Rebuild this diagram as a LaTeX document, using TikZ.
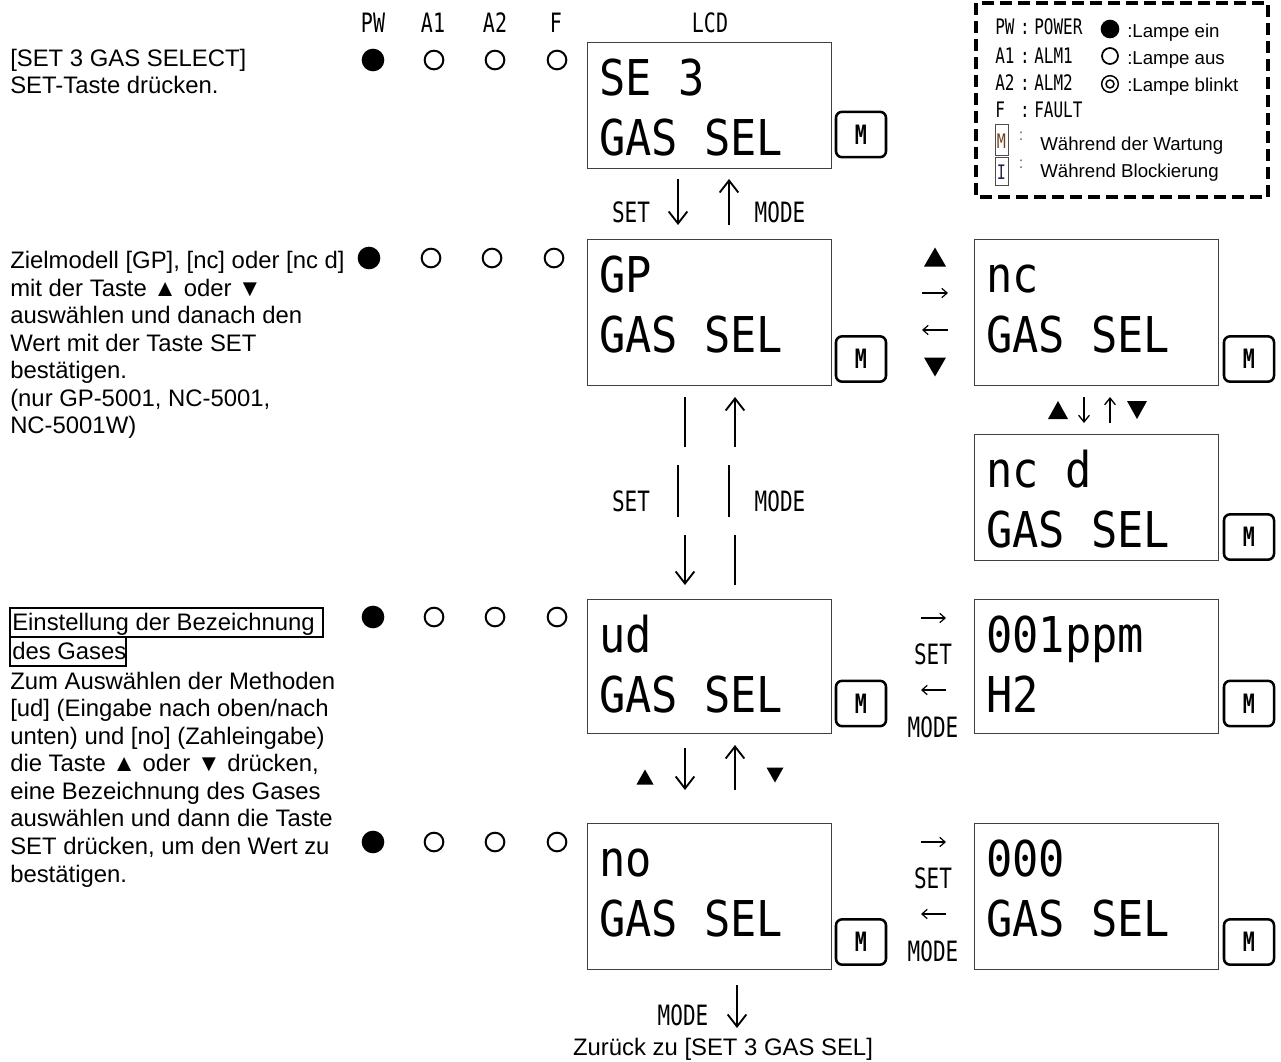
\documentclass[tikz,border=0pt]{standalone}
\usepackage{fontspec}
\setmainfont{Liberation Sans}
\newfontfamily\lcdfont[FakeStretch=0.885]{DejaVu Sans Mono}
\newfontfamily\narrowfont[FakeStretch=0.75]{DejaVu Sans Mono}
\usetikzlibrary{arrows.meta}
\newcommand\lcdpanel[6]{%
  \node[lcdbox,anchor=north west,minimum height=#4] (#1) at (#2,#3) {};
  \node[lcdtext] (#1-l1) at ({#2+12},{#3+53}) {#5};
  \node[lcdtext] (#1-l2) at ({#2+12},{#3+113}) {#6};
}
\newcommand\lamprow[5]{%
  \node[lampon]  (#1-pw) at (#2,#5) {};
  \node[lampoff] (#1-a1) at (#3,#5) {};
  \node[lampoff] (#1-a2) at (#4,#5) {};
  \node[lampoff] (#1-f)  at ({#4+62},#5) {};
}
\newcommand\uptri[4]{\fill ({#1-#3/2},{#2+#4/2}) -- ({#1+#3/2},{#2+#4/2}) -- (#1,{#2-#4/2}) -- cycle;}
\newcommand\dntri[4]{\fill ({#1-#3/2},{#2-#4/2}) -- ({#1+#3/2},{#2-#4/2}) -- (#1,{#2+#4/2}) -- cycle;}
\begin{document}
\begin{tikzpicture}[x=0.75pt,y=-0.75pt,
  body/.style={anchor=base west,inner sep=0pt,font=\fontsize{17.9}{20.6}\selectfont},
  small/.style={anchor=base west,inner sep=0pt,font=\fontsize{14}{16}\selectfont},
  lcdbox/.style={draw=black!75,line width=1.1pt,minimum width=183pt,inner sep=0pt},
  lcdtext/.style={anchor=base west,inner sep=0pt,font=\lcdfont\fontsize{37}{40}\selectfont},
  mbtn/.style={draw,line width=1.9pt,rounded corners=4.5pt,minimum width=37.5pt,minimum height=34pt,inner sep=0pt,font=\narrowfont\bfseries\fontsize{20}{21}\selectfont},
  lab/.style={anchor=base,inner sep=0pt,font=\narrowfont\fontsize{21}{22}\selectfont},
  hdr/.style={anchor=base,inner sep=0pt,font=\narrowfont\fontsize{20}{22}\selectfont},
  leg/.style={anchor=base west,inner sep=0pt,font=\narrowfont\fontsize{16}{18}\selectfont},
  lampon/.style={circle,fill,minimum size=17pt,inner sep=0pt},
  lampoff/.style={circle,draw,line width=1.5pt,minimum size=14pt,inner sep=0pt},
  bigarrow/.style={line width=2pt,-{Straight Barb[length=9pt,width=14pt,line width=1.4pt]}},
  bigseg/.style={line width=2.2pt},
  midarrow/.style={line width=1.3pt,-{Straight Barb[length=5pt,width=8pt,line width=1pt]}},
  thinarrow/.style={line width=0.9pt,-{Straight Barb[length=4pt,width=7pt,line width=0.9pt]}}
]
\useasboundingbox (0,0) rectangle (1281,1061);

% ---------- headers ----------
\node[hdr] (hpw)  at (373,32) {PW};
\node[hdr] (ha1)  at (433,32) {A1};
\node[hdr] (ha2)  at (495,32) {A2};
\node[hdr] (hf)   at (556,32) {F};
\node[hdr] (hlcd) at (710,32) {LCD};

% ---------- left texts ----------
\node[body] (t1a) at (10,66) {[SET 3 GAS SELECT]};
\node[body] (t1b) at (10,93) {SET-Taste drücken.};

\node[body] (t2a) at (10,268) {Zielmodell [GP], [nc] oder [nc d]};
\node[body] (t2b) at (10,296) {mit der Taste ▲ oder ▼};
\node[body] (t2c) at (10,323) {auswählen und danach den};
\node[body] (t2d) at (10,351) {Wert mit der Taste SET};
\node[body] (t2e) at (10,378) {bestätigen.};
\node[body] (t2f) at (10,406) {(nur GP-5001, NC-5001,};
\node[body] (t2g) at (10,433) {NC-5001W)};

\draw[line width=1.3pt] (10,608) rectangle (323,637);
\draw[line width=1.3pt] (10,637) rectangle (126,666);
\node[body] (t3a) at (12,630) {Einstellung der Bezeichnung};
\node[body] (t3b) at (12,659) {des Gases};
\node[body] (t3c) at (10,689) {Zum Auswählen der Methoden};
\node[body] (t3d) at (10,716) {[ud] (Eingabe nach oben/nach};
\node[body] (t3e) at (10,744) {unten) und [no] (Zahleingabe)};
\node[body] (t3f) at (10,771) {die Taste ▲ oder ▼ drücken,};
\node[body] (t3g) at (10,799) {eine Bezeichnung des Gases};
\node[body] (t3h) at (10,826) {auswählen und dann die Taste};
\node[body] (t3i) at (10,854) {SET drücken, um den Wert zu};
\node[body] (t3j) at (10,882) {bestätigen.};

% ---------- lamps ----------
\lamprow{r1}{373}{434}{495}{60}
\lamprow{r2}{369}{431}{492}{258}
\lamprow{r3}{373}{434}{495}{617}
\lamprow{r4}{373}{434}{495}{842}

% ---------- LCD panels ----------
\lcdpanel{se3}{587}{42}{94.5pt}{SE 3}{GAS SEL}
\lcdpanel{gp}{587}{239}{109.5pt}{GP}{GAS SEL}
\lcdpanel{nc}{974}{239}{109.5pt}{nc}{GAS SEL}
\lcdpanel{ncd}{974}{434}{94.5pt}{nc d}{GAS SEL}
\lcdpanel{ud}{587}{599}{100.5pt}{ud}{GAS SEL}
\lcdpanel{ppm}{974}{599}{100.5pt}{001ppm}{H2}
\lcdpanel{no}{587}{823}{109.5pt}{no}{GAS SEL}
\lcdpanel{zero}{974}{823}{109.5pt}{000}{GAS SEL}

% ---------- M buttons ----------
\node[mbtn] (m1)   at (861,134.5) {M};
\node[mbtn] (mgp)  at (861,359) {M};
\node[mbtn] (mnc)  at (1249,359) {M};
\node[mbtn] (mncd) at (1249,537) {M};
\node[mbtn] (mud)  at (861,703.5) {M};
\node[mbtn] (mppm) at (1249,703.5) {M};
\node[mbtn] (mno)  at (861,942) {M};
\node[mbtn] (mzero) at (1249,942) {M};

% ---------- SE3 <-> GP ----------
\node[lab] (set1)  at (631,222) {SET};
\node[lab] (mode1) at (780,222) {MODE};
\draw[bigarrow] (678,179) coordinate (s1a) -- (678,225) coordinate (s1b);
\draw[bigarrow] (729,225) coordinate (m1a) -- (729,179) coordinate (m1b);

% ---------- GP <-> ud (long arrows) ----------
\node[lab] (set2)  at (631,511) {SET};
\node[lab] (mode2) at (780,511) {MODE};
\draw[bigseg] (685,397) coordinate (l1a) -- (685,447) coordinate (l1b);
\draw[bigseg] (678,465) coordinate (l2a) -- (678,517) coordinate (l2b);
\draw[bigarrow] (685,535) coordinate (l3a) -- (685,585) coordinate (l3b);
\draw[bigarrow] (735,447) coordinate (r1a) -- (735,397) coordinate (r1b);
\draw[bigseg] (729,465) coordinate (r2a) -- (729,517) coordinate (r2b);
\draw[bigseg] (735,535) coordinate (r3a) -- (735,585) coordinate (r3b);

% ---------- GP <-> nc ----------
\uptri{935}{257}{22}{19}
\draw[thinarrow] (922,293) coordinate (gn1) -- (948,293) coordinate (gn2);
\draw[thinarrow] (948,330) coordinate (ng1) -- (922,330) coordinate (ng2);
\dntri{935}{367}{22}{19}

% ---------- nc <-> nc d ----------
\uptri{1058}{410}{20}{18}
\draw[midarrow] (1084,397) coordinate (nd1) -- (1084,423) coordinate (nd2);
\draw[midarrow] (1110,423) coordinate (dn1) -- (1110,397) coordinate (dn2);
\dntri{1137}{410}{20}{18}

% ---------- ud <-> 001ppm ----------
\draw[thinarrow] (921,618) coordinate (up1) -- (946,618) coordinate (up2);
\node[lab] (set3) at (933,664) {SET};
\draw[thinarrow] (946,690) coordinate (pu1) -- (921,690) coordinate (pu2);
\node[lab] (mode3) at (933,737) {MODE};

% ---------- ud <-> no ----------
\uptri{645}{777}{17}{15}
\draw[bigarrow] (685,748) coordinate (un1) -- (685,790) coordinate (un2);
\draw[bigarrow] (735,790) coordinate (nu1) -- (735,745) coordinate (nu2);
\dntri{775}{775}{17}{15}

% ---------- no <-> 000 ----------
\draw[thinarrow] (921,842) coordinate (nz1) -- (946,842) coordinate (nz2);
\node[lab] (set4) at (933,888) {SET};
\draw[thinarrow] (946,914) coordinate (zn1) -- (921,914) coordinate (zn2);
\node[lab] (mode4) at (933,961) {MODE};

% ---------- back ----------
\node[lab] (mode5) at (683,1025) {MODE};
\draw[bigarrow] (737,985) coordinate (bk1) -- (737,1028) coordinate (bk2);
\node[body,anchor=base] (back) at (723,1055) {Zurück zu [SET 3 GAS SEL]};

% ---------- legend ----------
\draw[line width=2.3pt,dash pattern=on 9pt off 4.5pt] (976,3) rectangle (1268,197);
\node[leg] (lpw) at (995,34) {PW};
\node[leg] (la1) at (995,63) {A1};
\node[leg] (la2) at (995,90) {A2};
\node[leg] (lf)  at (995,117) {F};
\foreach \yy/\nm in {34/c1,63/c2,90/c3,117/c4}
  \node[leg,anchor=base] (\nm) at (1025,\yy) {:};
\node[leg] (lpower) at (1034,34) {POWER};
\node[leg] (lalm1)  at (1034,63) {ALM1};
\node[leg] (lalm2)  at (1034,90) {ALM2};
\node[leg] (lfault) at (1034,117) {FAULT};
\node[circle,fill,minimum size=14pt,inner sep=0pt] (lon) at (1110,29) {};
\node[circle,draw,line width=1.3pt,minimum size=12pt,inner sep=0pt] (loff) at (1110,56) {};
\node[circle,draw,line width=1.1pt,minimum size=12.5pt,inner sep=0pt] (lbl) at (1110,84) {};
\node[circle,draw,line width=1.1pt,minimum size=6pt,inner sep=0pt] (lbl2) at (1110,84) {};
\node[small] (ton)  at (1127,37) {:Lampe ein};
\node[small] (toff) at (1127,64) {:Lampe aus};
\node[small] (tbl)  at (1127,91) {:Lampe blinkt};
\draw[line width=0.7pt,black!70] (995,124) rectangle (1008,155);
\draw[line width=0.7pt,black!70] (995,157) rectangle (1008,185);
\node[anchor=base,inner sep=0pt,font=\narrowfont\fontsize{15}{16}\selectfont,text={rgb,255:red,110;green,65;blue,25}] (lm) at (1001.5,148) {M};
\node[anchor=base,inner sep=0pt,font=\narrowfont\fontsize{15}{16}\selectfont,text={rgb,255:red,35;green,35;blue,80}] (li) at (1001.5,179) {I};
\node[anchor=base,inner sep=0pt,font=\fontsize{12}{13}\selectfont,text=black!60] (cm) at (1021,140) {:};
\node[anchor=base,inner sep=0pt,font=\fontsize{12}{13}\selectfont,text=black!60] (ci) at (1021,168) {:};
\node[small] (tw) at (1040,150) {Während der Wartung};
\node[small] (tb) at (1040,177) {Während Blockierung};
\end{tikzpicture}
\end{document}
